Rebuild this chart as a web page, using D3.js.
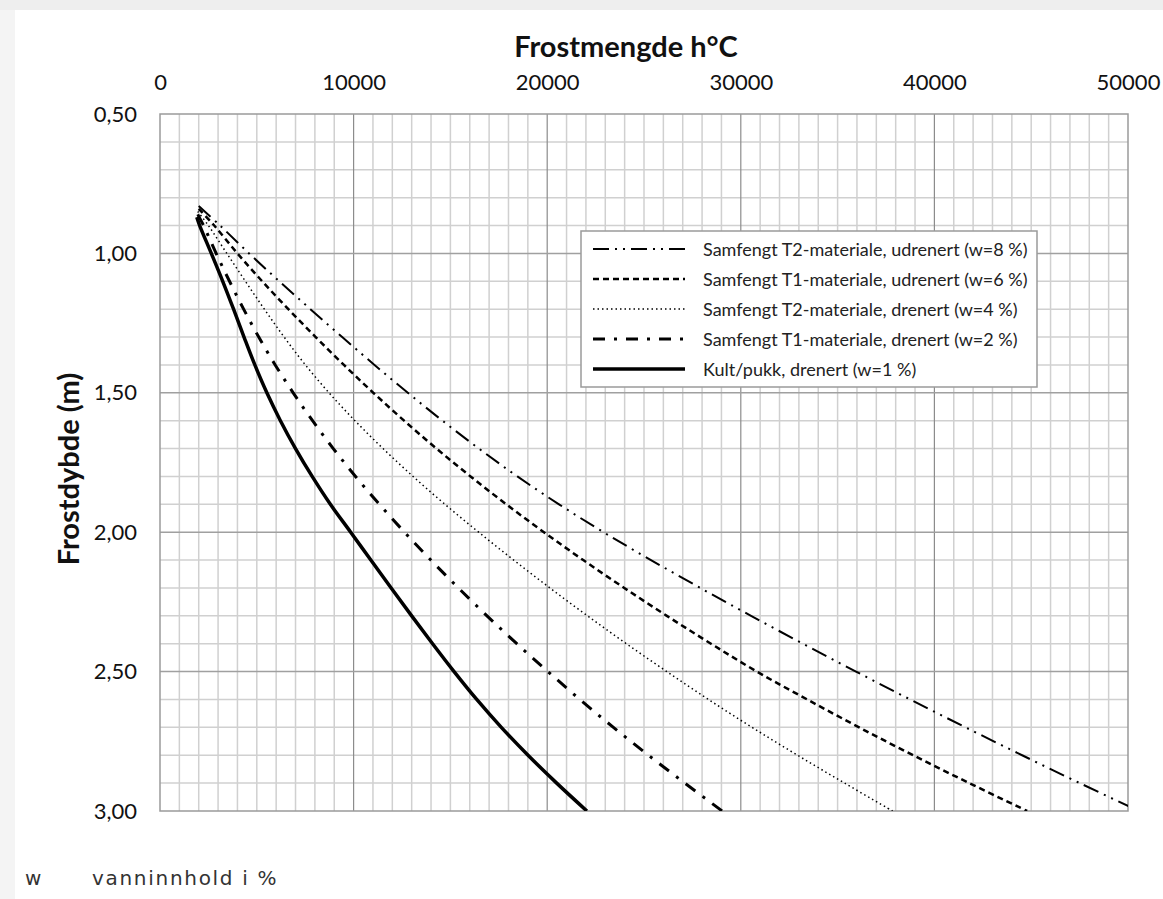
<!DOCTYPE html>
<html>
<head>
<meta charset="utf-8">
<script src="https://cdn.jsdelivr.net/npm/d3@7/dist/d3.min.js"></script>
<style>
  html, body { margin: 0; padding: 0; background: #fff; }
  svg { display: block; }
</style>
</head>
<body>
<svg id="chart" width="1163" height="899"></svg>
<script>
// ---------- DATA ----------
const xTicks = [0, 10000, 20000, 30000, 40000, 50000];
const yTicks = [0.5, 1.0, 1.5, 2.0, 2.5, 3.0];
const depths = [0.9, 1.0, 1.1, 1.2, 1.3, 1.4, 1.5, 1.6, 1.7, 1.8, 1.9, 2.0,
                2.1, 2.2, 2.3, 2.4, 2.5, 2.6, 2.7, 2.8, 2.9, 3.0];
const seriesNames = [
  "Samfengt T2-materiale, udrenert (w=8 %)",
  "Samfengt T1-materiale, udrenert (w=6 %)",
  "Samfengt T2-materiale, drenert (w=4 %)",
  "Samfengt T1-materiale, drenert (w=2 %)",
  "Kult/pukk, drenert (w=1 %)"
];
const startDepth = [0.83, 0.84, 0.85, 0.86, 0.87];
const startFrost = [2000, 2000, 1950, 1950, 1900];
const t2Udrenert = [3100, 4600, 6160, 7770, 9410, 11080, 12800, 14590, 16470, 18460, 20610, 22910,
                    25360, 27910, 30530, 33210, 35950, 38750, 41610, 44530, 47510, 50550];
const t1Udrenert = [2800, 4000, 5280, 6630, 8040, 9500, 11020, 12610, 14280, 16040, 17890, 19830,
                    21860, 23980, 26180, 28460, 30830, 33430, 36110, 38900, 41800, 44790];
const t2Drenert  = [2500, 3450, 4410, 5390, 6410, 7510, 8730, 10070, 11520, 13070, 14720, 16460,
                    18270, 20140, 22080, 24090, 26180, 28330, 30580, 32930, 35360, 37840];
const t1Drenert  = [2250, 2900, 3590, 4320, 5100, 5950, 6880, 7880, 8950, 10100, 11330, 12630,
                    13990, 15410, 16890, 18430, 20040, 21690, 23420, 25230, 27110, 29040];
const kultPukk   = [2050, 2650, 3240, 3800, 4340, 4900, 5520, 6220, 7000, 7860, 8800, 9850,
                    10890, 11940, 13000, 14080, 15190, 16360, 17630, 19010, 20490, 22050];
const seriesValues = [t2Udrenert, t1Udrenert, t2Drenert, t1Drenert, kultPukk];

// ---------- STYLES ----------
const styles = [
  { dash: "16,6,2,6,2,6", width: 2 },
  { dash: "6,4", width: 2.5 },
  { dash: "1.5,3", width: 1.5 },
  { dash: "12,9,3,9", width: 3 },
  { dash: null, width: 3.5 }
];

// ---------- CHART ----------
const svg = d3.select("#chart");
const pL = 160, pR = 1128, pT = 114, pB = 811;
const x = d3.scaleLinear().domain([0, 50000]).range([pL, pR]);
const y = d3.scaleLinear().domain([0.5, 3.0]).range([pT, pB]);
const FONT = "Lato, 'Open Sans', sans-serif";

// page frame
svg.append("rect").attr("x", 0).attr("y", 0).attr("width", 1163).attr("height", 10).attr("fill", "#eeeeee");
svg.append("rect").attr("x", 0).attr("y", 10).attr("width", 15).attr("height", 889).attr("fill", "#f4f4f4");

svg.append("defs").append("clipPath").attr("id", "clip")
  .append("rect").attr("x", pL).attr("y", pT).attr("width", pR - pL).attr("height", pB - pT);

// grid
const minorX = d3.range(1000, 50000, 1000).filter(v => v % 10000 !== 0);
const majorX = [10000, 20000, 30000, 40000];
const minorY = d3.range(6, 30).map(v => v / 10).filter(v => Math.round(v * 10) % 5 !== 0);
const majorY = [1.0, 1.5, 2.0, 2.5];

const g = svg.append("g");
g.selectAll(".mx").data(minorX).join("line")
  .attr("x1", d => x(d)).attr("x2", d => x(d)).attr("y1", pT).attr("y2", pB)
  .attr("stroke", "#d0d0d0").attr("stroke-width", 1.5);
g.selectAll(".my").data(minorY).join("line")
  .attr("y1", d => y(d)).attr("y2", d => y(d)).attr("x1", pL).attr("x2", pR)
  .attr("stroke", "#d0d0d0").attr("stroke-width", 1.5);
g.selectAll(".Mx").data(majorX).join("line")
  .attr("x1", d => x(d)).attr("x2", d => x(d)).attr("y1", pT).attr("y2", pB)
  .attr("stroke", "#8c8c8c").attr("stroke-width", 1.2);
g.selectAll(".My").data(majorY).join("line")
  .attr("y1", d => y(d)).attr("y2", d => y(d)).attr("x1", pL).attr("x2", pR)
  .attr("stroke", "#a0a0a0").attr("stroke-width", 1.5);
g.append("rect").attr("x", pL).attr("y", pT).attr("width", pR - pL).attr("height", pB - pT)
  .attr("fill", "none").attr("stroke", "#9a9a9a").attr("stroke-width", 1.5);

// axes
const xAxis = svg.append("g").attr("transform", `translate(0,${pT - 32})`)
  .call(d3.axisTop(x).tickValues(xTicks).tickSize(0).tickFormat(d3.format("d")));
xAxis.select(".domain").remove();
xAxis.selectAll("text").attr("font-family", FONT).attr("font-size", 22)
  .attr("fill", "#111").attr("dy", "0.35em").attr("y", 0);

const yAxis = svg.append("g").attr("transform", `translate(${pL - 23},0)`)
  .call(d3.axisLeft(y).tickValues(yTicks).tickSize(0).tickFormat(d => d.toFixed(2).replace(".", ",")));
yAxis.select(".domain").remove();
yAxis.selectAll("text").attr("font-family", FONT).attr("font-size", 22)
  .attr("fill", "#111").attr("x", 0);

// titles
svg.append("text").attr("x", 626).attr("y", 45).attr("text-anchor", "middle").attr("dominant-baseline", "central")
  .attr("font-family", FONT).attr("font-weight", "bold").attr("font-size", 29)
  .attr("fill", "#111").text("Frostmengde h°C");
svg.append("text").attr("transform", "translate(67,469) rotate(-90)").attr("text-anchor", "middle")
  .attr("dominant-baseline", "central")
  .attr("font-family", FONT).attr("font-weight", "bold").attr("font-size", 29)
  .attr("fill", "#111").text("Frostdybde (m)");

// curves
const line = d3.line().x(d => x(d[0])).y(d => y(d[1])).curve(d3.curveCatmullRom.alpha(0.5));
const curves = svg.append("g").attr("clip-path", "url(#clip)");
seriesValues.forEach((vals, i) => {
  const pts = [[startFrost[i], startDepth[i]]].concat(vals.map((v, j) => [v, depths[j]]));
  curves.append("path").datum(pts).attr("d", line)
    .attr("fill", "none").attr("stroke", "#000").attr("stroke-width", styles[i].width)
    .attr("stroke-dasharray", styles[i].dash);
});

// legend
const lg = svg.append("g");
lg.append("rect").attr("x", 581).attr("y", 231).attr("width", 456).attr("height", 156)
  .attr("fill", "#fff").attr("stroke", "#9a9a9a").attr("stroke-width", 1.5);
seriesNames.forEach((name, i) => {
  const ry = 249 + i * 30;
  lg.append("line").attr("x1", 593).attr("x2", 685).attr("y1", ry).attr("y2", ry)
    .attr("stroke", "#000").attr("stroke-width", styles[i].width).attr("stroke-dasharray", styles[i].dash);
  lg.append("text").attr("x", 703).attr("y", ry).attr("dominant-baseline", "central")
    .attr("font-family", FONT).attr("font-size", 18).attr("fill", "#222")
    .text(name);
});

// footnote
svg.append("text").attr("x", 25).attr("y", 878).attr("dominant-baseline", "central")
  .attr("font-family", "'DejaVu Sans', sans-serif").attr("font-size", 20).attr("fill", "#333")
  .text("w");
svg.append("text").attr("x", 92).attr("y", 878).attr("dominant-baseline", "central")
  .attr("font-family", "'DejaVu Sans', sans-serif").attr("font-size", 20).attr("fill", "#333")
  .attr("letter-spacing", 1.7).text("vanninnhold i %");
</script>
</body>
</html>
